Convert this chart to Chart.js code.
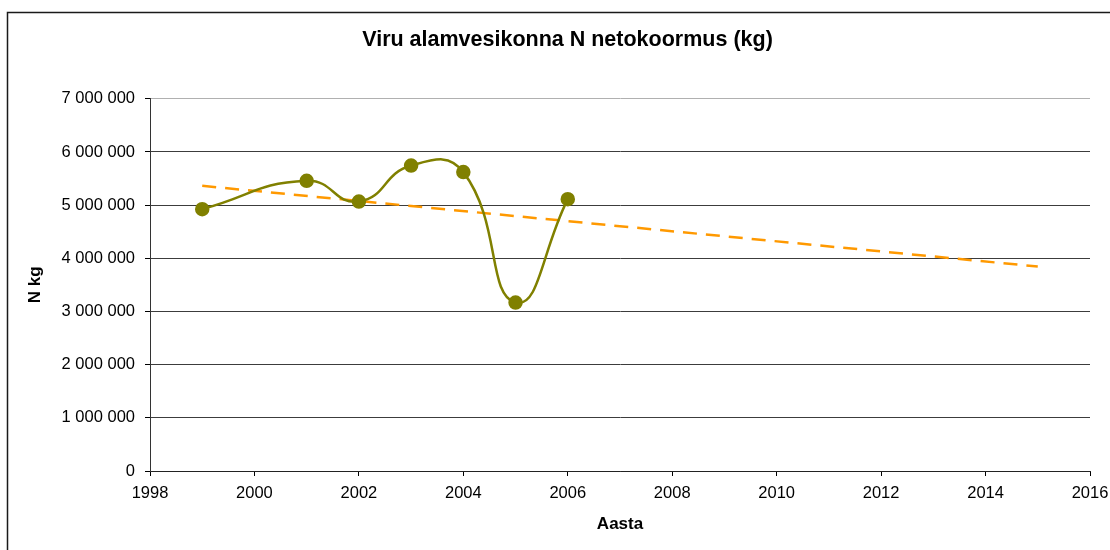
<!DOCTYPE html>
<html>
<head>
<meta charset="utf-8">
<script src="https://cdn.jsdelivr.net/npm/chart.js@4/dist/chart.umd.min.js"></script>
<style>
  html, body { margin: 0; padding: 0; background: #fff; }
  #wrap { width: 1110px; height: 550px; position: relative; }
</style>
</head>
<body>
<div id="wrap"><canvas id="nChart" width="1110" height="550"></canvas></div>
<script>
// values
var years = [1999, 2001, 2002, 2003, 2004, 2005, 2006];
var loadKg = [4925000, 5457000, 5068000, 5745000, 5621000, 3167000, 5113000];

// linear trend line, end points only
var trendYears = [1999, 2015];
var trendKg = [5363000, 3845000];

var yTicks = [0, 1000000, 2000000, 3000000, 4000000, 5000000, 6000000, 7000000];
var xTicks = [1998, 2000, 2002, 2004, 2006, 2008, 2010, 2012, 2014, 2016];

var FONT = "'Liberation Sans', Arial, sans-serif";

function spaced(v) {
    return String(v).replace(/\B(?=(\d{3})+(?!\d))/g, ' ');
}

var frame = {
    id: 'frame',
    beforeDraw: function (chart) {
        var ctx = chart.ctx;
        ctx.save();
        ctx.fillStyle = '#fff';
        ctx.fillRect(0, 0, chart.width, chart.height);
        ctx.strokeStyle = '#1a1a1a';
        ctx.lineWidth = 1.5;
        ctx.beginPath();
        ctx.moveTo(7.5, chart.height + 5);
        ctx.lineTo(7.5, 12.5);
        ctx.lineTo(chart.width + 5, 12.5);
        ctx.stroke();
        ctx.restore();
    }
};

var ctx = document.getElementById('nChart').getContext('2d');
var nChart = new Chart(ctx, {
    type: 'line',
    data: {
        datasets: [{
            label: 'N kg',
            data: years.map((y, i) => ({ x: y, y: loadKg[i] })),
            borderColor: '#808000',
            backgroundColor: '#808000',
            borderWidth: 2.5,
            pointRadius: 6,
            pointHoverRadius: 6,
            tension: 0.5,
            order: 1
        }, {
            label: 'Trend',
            data: trendYears.map((y, i) => ({ x: y, y: trendKg[i] })),
            borderColor: '#ff9900',
            borderWidth: 2.5,
            borderDash: [14, 9],
            pointRadius: 0,
            tension: 0,
            order: 2
        }]
    },
    options: {
        responsive: false,
        animation: false,
        layout: {
            padding: { left: 25, right: 0, top: 0, bottom: 0 }
        },
        plugins: {
            legend: { display: false },
            tooltip: { enabled: false },
            title: {
                display: true,
                text: 'Viru alamvesikonna N netokoormus (kg)',
                color: '#000',
                font: { family: FONT, size: 21.5, weight: 'bold' },
                padding: { top: 27, bottom: 46 }
            }
        },
        scales: {
            x: {
                type: 'linear',
                min: 1998,
                max: 2016,
                afterFit: function (scale) {
                    scale.height = 79;
                    scale.paddingRight = 20;
                },
                afterBuildTicks: function (scale) {
                    scale.ticks = xTicks.map(v => ({ value: v }));
                },
                ticks: {
                    color: '#000',
                    padding: 8,
                    maxRotation: 0,
                    autoSkip: false,
                    font: { family: FONT, size: 16.5 },
                    callback: v => String(v)
                },
                grid: {
                    drawOnChartArea: false,
                    drawTicks: true,
                    tickLength: 5,
                    tickColor: '#000'
                },
                border: { color: '#222', width: 1 },
                title: {
                    display: true,
                    text: 'Aasta',
                    color: '#000',
                    font: { family: FONT, size: 17, weight: 'bold' },
                    padding: { top: 0, bottom: 15 }
                }
            },
            y: {
                min: 0,
                max: 7000000,
                afterFit: function (scale) { scale.width = 125; },
                afterBuildTicks: function (scale) {
                    scale.ticks = yTicks.map(v => ({ value: v }));
                },
                ticks: {
                    color: '#000',
                    padding: 10,
                    autoSkip: false,
                    font: { family: FONT, size: 16.5 },
                    callback: v => spaced(v)
                },
                grid: {
                    color: c => (c.tick && c.tick.value === 7000000) ? '#b0b0b0' : '#3c3c3c',
                    tickLength: 5,
                    tickColor: '#000'
                },
                border: { color: '#333', width: 1 },
                title: {
                    display: true,
                    text: 'N kg',
                    color: '#000',
                    font: { family: FONT, size: 17, weight: 'bold' },
                    padding: { top: 0, bottom: 0 }
                }
            }
        }
    },
    plugins: [frame]
});
</script>
</body>
</html>
